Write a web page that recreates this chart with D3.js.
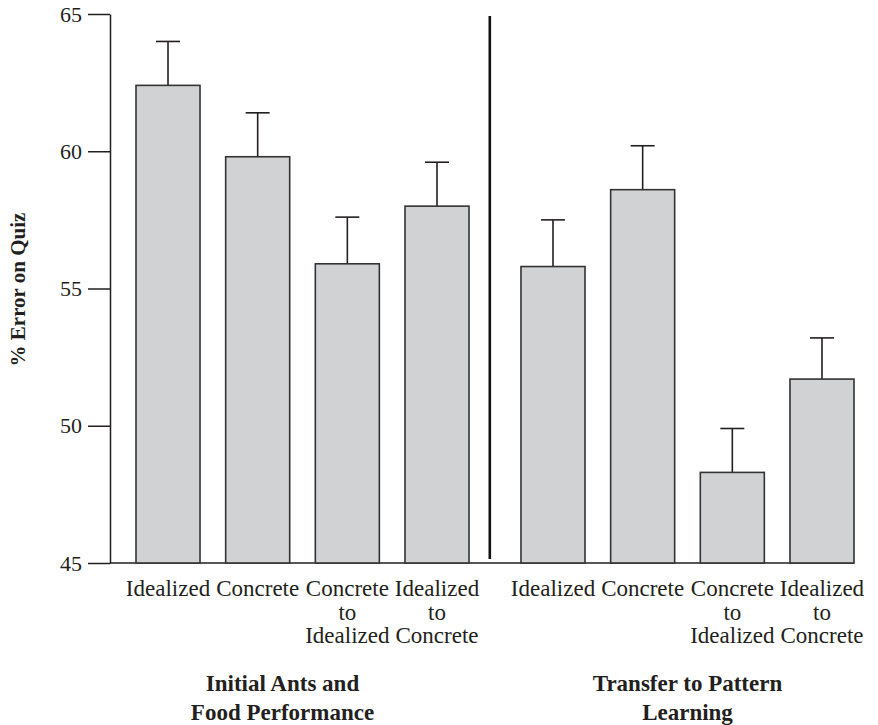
<!DOCTYPE html>
<html>
<head>
<meta charset="utf-8">
<script src="https://cdn.jsdelivr.net/npm/d3@7/dist/d3.min.js"></script>
<style>
  html, body { margin: 0; padding: 0; background: #fff; }
  svg { display: block; font-family: "Liberation Serif", "Times New Roman", serif; }
</style>
</head>
<body>
<svg id="chart" width="878" height="725"></svg>
<script>
// Quiz error by instruction condition, for the two test phases
const groups = ["Initial Ants and Food Performance", "Transfer to Pattern Learning"];
const groupTitleLines = [["Initial Ants and", "Food Performance"], ["Transfer to Pattern", "Learning"]];
const conditions = ["Idealized", "Concrete", "Concrete to Idealized", "Idealized to Concrete"];
const conditionLines = [["Idealized"], ["Concrete"], ["Concrete", "to", "Idealized"], ["Idealized", "to", "Concrete"]];
const initialErrorPct = [62.4, 59.8, 55.9, 58.0];
const initialStdErr = [1.6, 1.6, 1.7, 1.6];
const transferErrorPct = [55.8, 58.6, 48.3, 51.7];
const transferStdErr = [1.7, 1.6, 1.6, 1.5];
const yTicks = [45, 50, 55, 60, 65];
const yLabel = "% Error on Quiz";

const rows = [];
[[initialErrorPct, initialStdErr], [transferErrorPct, transferStdErr]].forEach(([vals, errs], gi) => {
  vals.forEach((v, ci) => rows.push({ group: groups[gi], cond: conditions[ci], ci, value: v, err: errs[ci] }));
});

const svg = d3.select("#chart");
const axisX = 110, plotTop = 14, plotBottom = 563;

const y = d3.scaleLinear().domain([45, 65]).range([plotBottom, plotTop]);
const x0 = d3.scaleBand().domain(groups).range([136, 854]).paddingInner(0.135).paddingOuter(0);
const x1 = d3.scaleBand().domain(conditions).range([0, x0.bandwidth()]).paddingInner(0.286).paddingOuter(0);

const ink = "#231f20";

// y axis
const yAxis = d3.axisLeft(y).tickValues(yTicks).tickSize(22).tickSizeOuter(0).tickPadding(6).tickFormat(d3.format("d"));
const gy = svg.append("g").attr("transform", `translate(${axisX},0)`).call(yAxis);
gy.select(".domain").attr("stroke", ink).attr("stroke-width", 1.5);
gy.selectAll(".tick line").attr("stroke", ink).attr("stroke-width", 1.5);
gy.selectAll(".tick text")
  .attr("fill", ink)
  .style("font-family", "Liberation Serif")
  .style("font-size", "22px");

// baseline
svg.append("line")
  .attr("x1", axisX).attr("x2", x0(groups[1]) + x0.bandwidth())
  .attr("y1", y(45)).attr("y2", y(45))
  .attr("stroke", ink).attr("stroke-width", 1.5);

// y label
svg.append("text")
  .attr("transform", `translate(25,${(plotTop + plotBottom) / 2 + 1}) rotate(-90)`)
  .attr("text-anchor", "middle")
  .attr("fill", ink)
  .style("font-size", "21px")
  .style("font-weight", "bold")
  .text(yLabel);

// divider between the two phases
const divX = x0(groups[1]) - x0.step() * x0.paddingInner() * 0.6;
svg.append("line")
  .attr("x1", divX).attr("x2", divX)
  .attr("y1", 16).attr("y2", 559)
  .attr("stroke", "#111").attr("stroke-width", 2.6);

const barX = d => x0(d.group) + x1(d.cond);
const barW = x1.bandwidth();

// error whiskers (upper only)
const capHalf = 12;
const eb = svg.append("g").selectAll("g").data(rows).join("g");
eb.append("line")
  .attr("x1", d => barX(d) + barW / 2).attr("x2", d => barX(d) + barW / 2)
  .attr("y1", d => y(d.value)).attr("y2", d => y(d.value + d.err))
  .attr("stroke", ink).attr("stroke-width", 1.6);
eb.append("line")
  .attr("x1", d => barX(d) + barW / 2 - capHalf).attr("x2", d => barX(d) + barW / 2 + capHalf)
  .attr("y1", d => y(d.value + d.err)).attr("y2", d => y(d.value + d.err))
  .attr("stroke", ink).attr("stroke-width", 1.6);

// bars
svg.append("g").selectAll("rect").data(rows).join("rect")
  .attr("x", barX)
  .attr("y", d => y(d.value))
  .attr("width", barW)
  .attr("height", d => y(45) - y(d.value))
  .attr("fill", "#d1d2d4")
  .attr("stroke", "#333")
  .attr("stroke-width", 1.6);

// condition labels
const lab = svg.append("g").selectAll("text").data(rows).join("text")
  .attr("text-anchor", "middle")
  .attr("fill", ink)
  .style("font-size", "23px")
  .attr("transform", d => `translate(${barX(d) + barW / 2},596)`);
lab.selectAll("tspan").data(d => conditionLines[d.ci]).join("tspan")
  .attr("x", 0)
  .attr("y", (t, i) => i * 23.5)
  .text(t => t);

// phase titles
const titleNudge = [-20, 0];
const tt = svg.append("g").selectAll("text").data(groups).join("text")
  .attr("text-anchor", "middle")
  .attr("fill", ink)
  .style("font-size", "23px")
  .style("font-weight", "bold")
  .attr("transform", (g, i) => `translate(${x0(g) + x0.bandwidth() / 2 + titleNudge[i]},691)`);
tt.selectAll("tspan").data((g, i) => groupTitleLines[i]).join("tspan")
  .attr("x", 0)
  .attr("y", (t, i) => i * 28.5)
  .text(t => t);
</script>
</body>
</html>
